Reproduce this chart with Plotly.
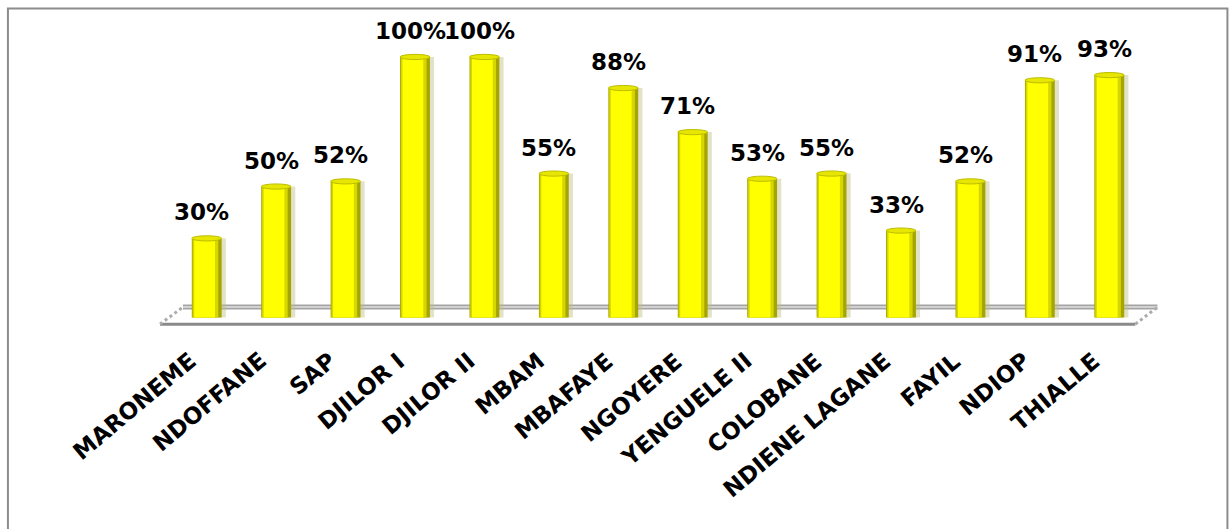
import plotly.graph_objects as go

# Taux par localité (%)
localites = ["MARONEME", "NDOFFANE", "SAP", "DJILOR I", "DJILOR II", "MBAM",
             "MBAFAYE", "NGOYERE", "YENGUELE II", "COLOBANE", "NDIENE LAGANE",
             "FAYIL", "NDIOP", "THIALLE"]
taux = [30, 50, 52, 100, 100, 55, 88, 71, 53, 55, 33, 52, 91, 93]

FIG_W, FIG_H = 1232, 529
n = len(localites)

# pixel geometry of the plotting area
STEP = 69.4                 # px between category centres
X_FIRST = 206.7             # px of first category centre
ZERO_PX = 316.0             # px of value 0
PX_PER_UNIT = 2.586
Y_MIN, Y_MAX = -1.5, 105

LEFT = X_FIRST - STEP / 2
PLOT_W = STEP * n
RIGHT = FIG_W - LEFT - PLOT_W
TOP = ZERO_PX - Y_MAX * PX_PER_UNIT
BOTTOM_PX = ZERO_PX - Y_MIN * PX_PER_UNIT
PLOT_H = BOTTOM_PX - TOP
BOTTOM = FIG_H - BOTTOM_PX


def px_x(px):
    return (px - LEFT) / PLOT_W


def px_y(py):
    return (BOTTOM_PX - py) / PLOT_H


HALF = 0.215   # half bar width in category units
BASE = -0.5

fig = go.Figure()

# cylinder shading built from overlaid bars: shadow, dark rim, body, highlight
layers = [
    (-HALF + 0.06, 2 * HALF, "rgba(190,190,130,0.45)"),
    (-HALF, 2 * HALF, "#A5A500"),
    (-HALF + 0.012, 2 * HALF - 0.06, "#D6D600"),
    (-HALF + 0.035, 2 * HALF - 0.13, "#FFFF00"),
]
for off, w, col in layers:
    fig.add_trace(go.Bar(
        x=list(range(n)), y=[v - BASE for v in taux], base=BASE,
        offset=off, width=w, marker=dict(color=col, line=dict(width=0)),
        hoverinfo="skip", showlegend=False,
    ))

shapes = []

# border around the chart
shapes.append(dict(type="rect", xref="paper", yref="paper", layer="below",
                   x0=px_x(8), x1=px_x(1227), y0=px_y(9), y1=px_y(560),
                   line=dict(color="#8C8C8C", width=2), fillcolor="rgba(0,0,0,0)"))

# floor slab
fl, fr, bl, br = 160, 1135, 183, 1157
fy, by = 324, 307
shapes.append(dict(type="line", xref="paper", yref="paper", layer="below",
                   x0=px_x(bl), x1=px_x(br), y0=px_y(by), y1=px_y(by),
                   line=dict(color="#A4A4A4", width=5)))
shapes.append(dict(type="line", xref="paper", yref="paper", layer="below",
                   x0=px_x(bl), x1=px_x(br), y0=px_y(by), y1=px_y(by),
                   line=dict(color="#D2D2D2", width=2)))
shapes.append(dict(type="line", xref="paper", yref="paper", layer="below",
                   x0=px_x(fl), x1=px_x(fr), y0=px_y(fy), y1=px_y(fy),
                   line=dict(color="#8A8A8A", width=3)))
for x0, x1 in [(fl, bl), (fr, br)]:
    shapes.append(dict(type="line", xref="paper", yref="paper", layer="below",
                       x0=px_x(x0), x1=px_x(x1), y0=px_y(fy), y1=px_y(by),
                       line=dict(color="#ABABAB", width=3, dash="dot")))

# elliptical tops of the cylinders
E = 2.6 / PX_PER_UNIT
for i, v in enumerate(taux):
    shapes.append(dict(type="circle", xref="x", yref="y", layer="above",
                       x0=i - HALF, x1=i + HALF, y0=v - E, y1=v + E,
                       fillcolor="#E6E600", line=dict(color="#BDBD00", width=1)))

annotations = []
# value labels
for i, v in enumerate(taux):
    annotations.append(dict(x=i, y=v, xref="x", yref="y", text=f"{v}%",
                            showarrow=False, yanchor="bottom", yshift=11, xshift=-5,
                            font=dict(family="DejaVu Sans", size=23, color="#000000",
                                      weight="bold")))

# slanted category labels, right end just below each cylinder
LABEL_TOP_PX = 346
for i, name in enumerate(localites):
    annotations.append(dict(x=i, y=px_y(LABEL_TOP_PX), xref="x", yref="paper",
                            text=name, textangle=-40, showarrow=False,
                            xanchor="right", yanchor="top", xshift=-4,
                            borderpad=0,
                            font=dict(family="DejaVu Sans", size=23, color="#000000",
                                      weight="bold")))

fig.update_layout(
    width=FIG_W, height=FIG_H,
    margin=dict(l=LEFT, r=RIGHT, t=TOP, b=BOTTOM, pad=0),
    barmode="overlay",
    paper_bgcolor="#FFFFFF", plot_bgcolor="rgba(0,0,0,0)",
    shapes=shapes, annotations=annotations,
    xaxis=dict(range=[-0.5, n - 0.5], showticklabels=False, showgrid=False,
               zeroline=False, showline=False, ticks=""),
    yaxis=dict(range=[Y_MIN, Y_MAX], visible=False, showgrid=False, zeroline=False),
    showlegend=False,
)

fig.write_html("out.html")
